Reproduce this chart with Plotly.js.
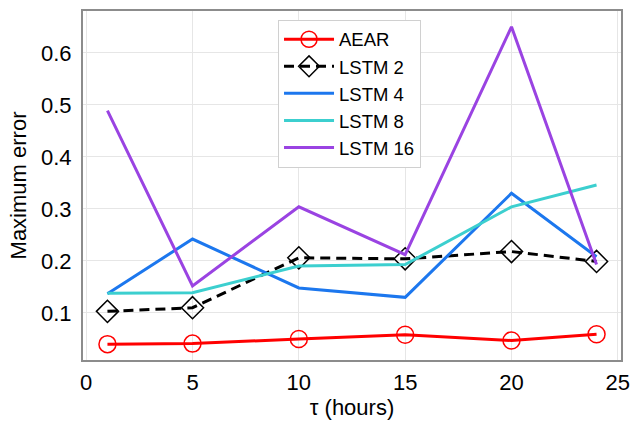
<!DOCTYPE html>
<html>
<head>
<meta charset="utf-8">
<script src="https://cdn.plot.ly/plotly-3.0.1.min.js"></script>
<style>html,body{margin:0;padding:0;background:#fff;}#chart{width:631px;height:423px;}</style>
</head>
<body>
<div id="chart"></div>
<script>
const tau = [1, 5, 10, 15, 20, 24];
const aear = [0.040, 0.041, 0.050, 0.058, 0.047, 0.059];
const lstm2 = [0.103, 0.110, 0.206, 0.204, 0.218, 0.199];
const lstm4 = [0.137, 0.242, 0.148, 0.130, 0.330, 0.208];
const lstm8 = [0.138, 0.139, 0.190, 0.193, 0.304, 0.346];
const lstm16 = [0.489, 0.152, 0.304, 0.212, 0.650, 0.193];
const seriesNames = ["AEAR", "LSTM 2", "LSTM 4", "LSTM 8", "LSTM 16"];
const xTicks = [0, 5, 10, 15, 20, 25];
const yTicks = [0.1, 0.2, 0.3, 0.4, 0.5, 0.6];

const font = "Liberation Sans, Arial, Helvetica, sans-serif";

const traces = [
  {x: tau, y: aear, name: seriesNames[0], mode: "lines+markers",
   line: {color: "#ff0000", width: 3},
   marker: {symbol: "circle-open", size: 17, color: "#ff0000", line: {width: 1.5, color: "#ff0000"}}},
  {x: tau, y: lstm2, name: seriesNames[1], mode: "lines+markers",
   line: {color: "#000000", width: 3, dash: "10px,6px"},
   marker: {symbol: "diamond-open", size: 17, color: "#000000", line: {width: 1.5, color: "#000000"}}},
  {x: tau, y: lstm4, name: seriesNames[2], mode: "lines",
   line: {color: "#1c77ee", width: 3}},
  {x: tau, y: lstm8, name: seriesNames[3], mode: "lines",
   line: {color: "#3ccfcf", width: 3}},
  {x: tau, y: lstm16, name: seriesNames[4], mode: "lines",
   line: {color: "#9a43e2", width: 3}}
];

const layout = {
  width: 631, height: 423,
  margin: {l: 83, r: 10, t: 11, b: 63},
  paper_bgcolor: "#ffffff", plot_bgcolor: "#ffffff",
  font: {family: font, size: 22, color: "#000"},
  showlegend: true,
  legend: {
    x: 0.3625, y: 0.975, xanchor: "left", yanchor: "top",
    bgcolor: "#ffffff", bordercolor: "#d0d0d0", borderwidth: 1,
    font: {family: font, size: 18.5, color: "#000"},
    itemwidth: 50
  },
  xaxis: {
    range: [-0.15, 25.15],
    tickvals: xTicks, ticktext: xTicks.map(String),
    showgrid: true, gridcolor: "#e6e6e6", gridwidth: 1,
    zeroline: false, showline: true, mirror: true, linecolor: "#8c8c8c", linewidth: 2,
    ticks: "", tickfont: {size: 22}, ticklabelstandoff: 2,
    title: {text: "τ (hours)", font: {size: 22}, standoff: 4}
  },
  yaxis: {
    range: [0.0095, 0.6805],
    tickvals: yTicks, ticktext: yTicks.map(v => v.toFixed(1)),
    showgrid: true, gridcolor: "#e6e6e6", gridwidth: 1,
    zeroline: false, showline: true, mirror: true, linecolor: "#8c8c8c", linewidth: 2,
    ticks: "", tickfont: {size: 22}, ticklabelstandoff: 5,
    title: {text: "Maximum error", font: {size: 22}, standoff: 8}
  }
};

Plotly.newPlot("chart", traces, layout, {displayModeBar: false, staticPlot: true});
</script>
</body>
</html>
